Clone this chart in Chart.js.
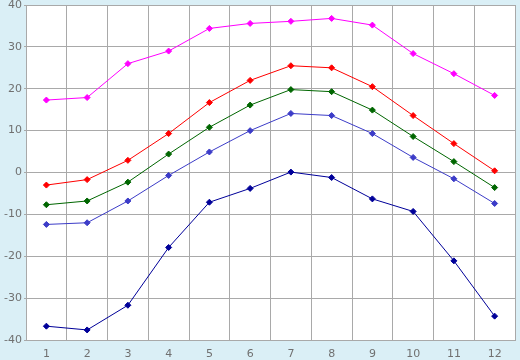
<!DOCTYPE html>
<html>
<head>
<meta charset="utf-8">
<script src="https://cdn.jsdelivr.net/npm/chart.js@4.4.0/dist/chart.umd.min.js"></script>
<style>
    html, body { margin: 0; padding: 0; background: #daeff6; }
    #wrap { width: 520px; height: 360px; }
</style>
</head>
<body>
<div id="wrap"><canvas id="myChart" width="520" height="360"></canvas></div>
<script>
// Data
const months = ['1', '2', '3', '4', '5', '6', '7', '8', '9', '10', '11', '12'];
const seriesTop = [17.3, 17.9, 26.0, 29.0, 34.4, 35.6, 36.1, 36.8, 35.2, 28.4, 23.6, 18.4];
const seriesRed = [-3.0, -1.7, 2.9, 9.3, 16.7, 22.0, 25.5, 25.0, 20.5, 13.6, 6.9, 0.4];
const seriesGreen = [-7.7, -6.8, -2.3, 4.4, 10.8, 16.1, 19.8, 19.3, 14.9, 8.6, 2.6, -3.6];
const seriesBlue = [-12.4, -12.0, -6.8, -0.7, 4.9, 10.0, 14.1, 13.6, 9.3, 3.6, -1.5, -7.4];
const seriesNavy = [-36.7, -37.6, -31.7, -17.9, -7.1, -3.8, 0.1, -1.2, -6.3, -9.3, -21.1, -34.3];
const yTicks = [-40, -30, -20, -10, 0, 10, 20, 30, 40];

const gridColor = '#a9a9a9';
const tickFont = { family: 'DejaVu Sans', size: 11 };

function makeSet(data, color) {
    return {
        data: data,
        borderColor: color,
        backgroundColor: color,
        borderWidth: 1,
        pointStyle: 'rectRot',
        pointRadius: 3,
        pointBorderWidth: 1,
        tension: 0,
        fill: false
    };
}

// white plot area on the blue page
const plotBg = {
    id: 'plotBg',
    beforeDraw(chart) {
        const { ctx, chartArea: a } = chart;
        ctx.save();
        ctx.fillStyle = '#daeff6';
        ctx.fillRect(0, 0, chart.width, chart.height);
        ctx.fillStyle = '#ffffff';
        ctx.fillRect(a.left, a.top, a.right - a.left, a.bottom - a.top);
        ctx.restore();
    }
};

const ctx = document.getElementById('myChart').getContext('2d');
new Chart(ctx, {
    type: 'line',
    data: {
        labels: months,
        datasets: [
            makeSet(seriesTop, '#ff00ff'),
            makeSet(seriesRed, '#ff0000'),
            makeSet(seriesGreen, '#006600'),
            makeSet(seriesBlue, '#3c3cc8'),
            makeSet(seriesNavy, '#000099')
        ]
    },
    options: {
        responsive: false,
        animation: false,
        layout: { padding: { top: 5, right: 5, left: 0, bottom: 0 } },
        plugins: {
            legend: { display: false },
            tooltip: { enabled: false }
        },
        scales: {
            x: {
                offset: true,
                grid: { offset: true, color: gridColor, drawTicks: false },
                border: { color: gridColor },
                ticks: { color: '#707070', font: tickFont, padding: 8 },
                afterFit: s => { s.height = 20; s.paddingLeft = 0; s.paddingRight = 0; }
            },
            xMarks: {
                type: 'category',
                position: 'bottom',
                offset: true,
                grid: { offset: false, drawOnChartArea: false, color: gridColor, tickLength: 6 },
                border: { display: false },
                ticks: { display: false },
                afterFit: s => { s.height = 0; s.paddingLeft = 0; s.paddingRight = 0; }
            },
            y: {
                min: -40,
                max: 40,
                afterBuildTicks: s => { s.ticks = yTicks.map(v => ({ value: v })); },
                grid: { color: gridColor, tickLength: 2 },
                border: { color: gridColor },
                ticks: { color: '#707070', font: tickFont, padding: 2 },
                afterFit: s => { s.width = 26; s.paddingTop = 0; s.paddingBottom = 0; }
            }
        }
    },
    plugins: [plotBg]
});
</script>
</body>
</html>
